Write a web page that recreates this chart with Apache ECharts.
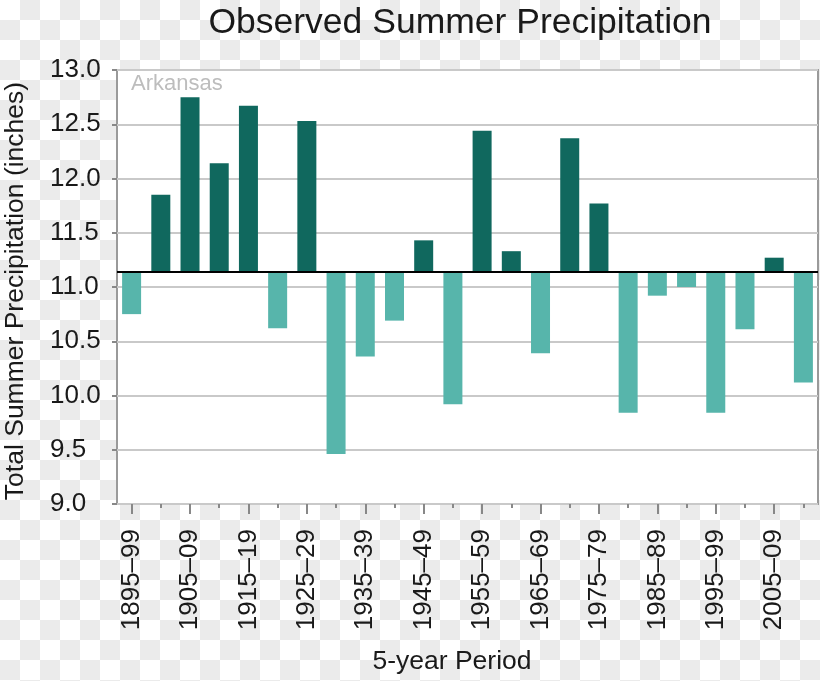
<!DOCTYPE html>
<html>
<head>
<meta charset="utf-8">
<script src="https://cdn.jsdelivr.net/npm/echarts@6/dist/echarts.min.js"></script>
<style>
html, body { margin: 0; padding: 0; }
body {
  width: 820px; height: 681px;
  background-color: #fff;
  background-image: conic-gradient(#ebebeb 0 25%, #fff 0 50%, #ebebeb 0 75%, #fff 0);
  background-size: 40px 40px;
}
#chart { width: 820px; height: 681px; }
</style>
</head>
<body>
<div id="chart"></div>
<script>
const periods = ["1895–99","1900–04","1905–09","1910–14","1915–19","1920–24","1925–29","1930–34",
  "1935–39","1940–44","1945–49","1950–54","1955–59","1960–64","1965–69","1970–74",
  "1975–79","1980–84","1985–89","1990–94","1995–99","2000–04","2005–09","2010–14"];
const precipitation = [10.75, 11.85, 12.75, 12.14, 12.67, 10.62, 12.53, 9.46, 10.36, 10.69, 11.43, 9.92,
  12.44, 11.33, 10.39, 12.37, 11.77, 9.84, 10.92, 11.00, 9.84, 10.61, 11.27, 10.12];
const baselineValue = 11.14;
const yTicks = [9.0, 9.5, 10.0, 10.5, 11.0, 11.5, 12.0, 12.5, 13.0];

const titleText = "Observed Summer Precipitation";
const yName = "Total Summer Precipitation (inches)";
const xName = "5-year Period";
const stateLabel = "Arkansas";

const DARK = "#10685e";
const LIGHT = "#57b5ab";
const FONT = "'Liberation Sans', Arial, sans-serif";

const baseData = precipitation.map(v => Math.min(v, baselineValue));
const devData = precipitation.map(v => ({
  value: Math.abs(v - baselineValue),
  itemStyle: { color: v >= baselineValue ? DARK : LIGHT }
}));

const chart = echarts.init(document.getElementById('chart'), null, { renderer: 'canvas' });
chart.setOption({
  backgroundColor: 'transparent',
  animation: false,
  title: {
    text: titleText,
    left: 455, top: 0, textAlign: 'center',
    textStyle: { fontFamily: FONT, fontSize: 35.5, fontWeight: 'normal', color: '#1a1a1a' }
  },
  graphic: [{
    type: 'text', left: 131, top: 73,
    style: { text: stateLabel, fontFamily: FONT, fontSize: 22, fill: '#bdbdbd' }
  }, {
    type: 'text', x: 452, y: 662,
    style: { text: xName, fontFamily: FONT, fontSize: 26.5, fill: '#1a1a1a', textAlign: 'center', textVerticalAlign: 'middle' }
  }, {
    type: 'text', x: 16, y: 291, rotation: Math.PI / 2,
    style: { text: yName, fontFamily: FONT, fontSize: 26.5, fill: '#1a1a1a', textAlign: 'center', textVerticalAlign: 'middle' }
  }],
  grid: {
    left: 117, right: 2, top: 70, bottom: 177,
    show: true, backgroundColor: '#fff', borderColor: '#9a9a9a', borderWidth: 2
  },
  xAxis: [{
    type: 'category', data: periods, boundaryGap: true,
    axisLine: { show: false },
    axisTick: { show: true, alignWithLabel: true, interval: 1, length: 10, lineStyle: { color: '#888', width: 2 } },
    axisLabel: { interval: 1, rotate: 90, margin: 25, fontFamily: FONT, fontSize: 26, color: '#1a1a1a' },
    splitLine: { show: false }
  }, {
    type: 'category', data: periods, boundaryGap: true, position: 'bottom',
    axisLine: { show: false },
    axisTick: { show: true, alignWithLabel: true, interval: 0, length: 4, lineStyle: { color: '#888', width: 2 } },
    axisLabel: { show: false }, splitLine: { show: false }
  }],
  yAxis: {
    type: 'value', min: yTicks[0], max: yTicks[yTicks.length - 1], interval: 0.5,
    axisLine: { show: false },
    axisTick: { show: true, length: 5, lineStyle: { color: '#888', width: 2 } },
    axisLabel: { margin: 67, align: 'left', fontFamily: FONT, fontSize: 26, color: '#1a1a1a', formatter: v => v.toFixed(1) },
    splitLine: { show: true, lineStyle: { color: '#c9c9c9', width: 2 } }
  },
  series: [{
    type: 'bar', stack: 'dev', data: baseData, barWidth: 19,
    itemStyle: { color: 'rgba(0,0,0,0)' }, silent: true
  }, {
    type: 'bar', stack: 'dev', data: devData, barWidth: 19,
    markLine: {
      silent: true, symbol: 'none', label: { show: false },
      lineStyle: { color: '#000', width: 2, type: 'solid' },
      data: [{ yAxis: baselineValue }]
    }
  }]
});
</script>
</body>
</html>
